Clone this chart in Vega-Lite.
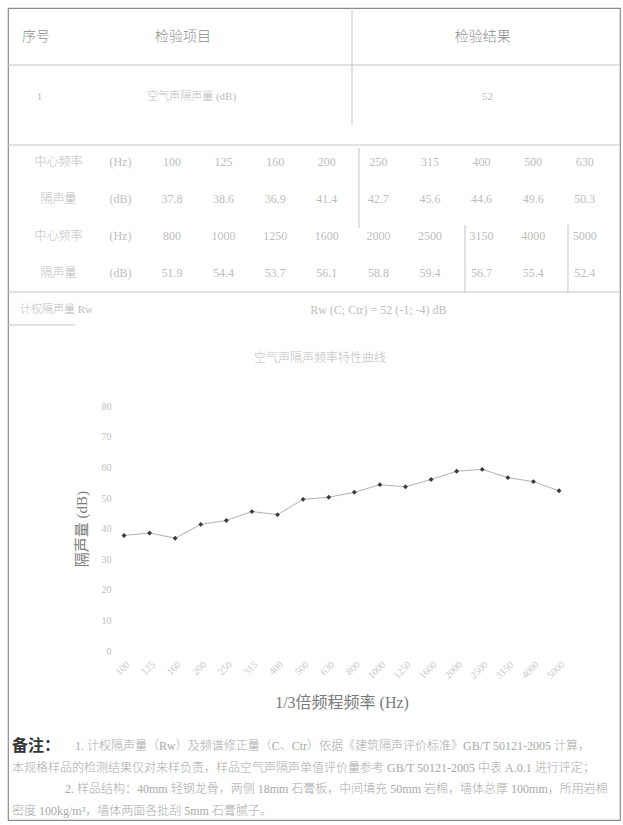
{
  "$schema": "https://vega.github.io/schema/vega-lite/v6.json",
  "width": 612,
  "height": 812,
  "autosize": {"type": "none"},
  "padding": {"left": 8, "top": 8, "right": 3, "bottom": 5},
  "background": "white",
  "config": {
    "view": {"stroke": "#8a8a8a", "strokeWidth": 1.2},
    "font": "Liberation Serif, Noto Sans CJK SC",
    "text": {"font": "Liberation Serif, Noto Sans CJK SC"}
  },
  "datasets": {
    "spectrum": [
      {"f": "100", "R": 37.8, "band": 1, "tc": 1},
      {"f": "125", "R": 38.6, "band": 1, "tc": 2},
      {"f": "160", "R": 36.9, "band": 1, "tc": 3},
      {"f": "200", "R": 41.4, "band": 1, "tc": 4},
      {"f": "250", "R": 42.7, "band": 1, "tc": 5},
      {"f": "315", "R": 45.6, "band": 1, "tc": 6},
      {"f": "400", "R": 44.6, "band": 1, "tc": 7},
      {"f": "500", "R": 49.6, "band": 1, "tc": 8},
      {"f": "630", "R": 50.3, "band": 1, "tc": 9},
      {"f": "800", "R": 51.9, "band": 2, "tc": 1},
      {"f": "1000", "R": 54.4, "band": 2, "tc": 2},
      {"f": "1250", "R": 53.7, "band": 2, "tc": 3},
      {"f": "1600", "R": 56.1, "band": 2, "tc": 4},
      {"f": "2000", "R": 58.8, "band": 2, "tc": 5},
      {"f": "2500", "R": 59.4, "band": 2, "tc": 6},
      {"f": "3150", "R": 56.7, "band": 2, "tc": 7},
      {"f": "4000", "R": 55.4, "band": 2, "tc": 8},
      {"f": "5000", "R": 52.4, "band": 2, "tc": 9}
    ],
    "grid": [
      {"x1": 0, "x2": 100, "y1": 7.02, "y2": 7.02},
      {"x1": 56.21, "x2": 56.21, "y1": 0, "y2": 14.41},
      {"x1": 0, "x2": 100, "y1": 16.87, "y2": 16.87},
      {"x1": 0, "x2": 100, "y1": 34.98, "y2": 34.98},
      {"x1": 0, "x2": 10.95, "y1": 39.04, "y2": 39.04},
      {"x1": 57.35, "x2": 57.35, "y1": 17.24, "y2": 27.09},
      {"x1": 74.67, "x2": 74.67, "y1": 26.72, "y2": 34.98},
      {"x1": 91.5, "x2": 91.5, "y1": 26.72, "y2": 34.98}
    ],
    "head": [
      {"t": "序号", "c": 0.55, "r": 1},
      {"t": "检验项目", "c": 3.43, "r": 1},
      {"t": "检验结果", "c": 9.31, "r": 1},
      {"t": "1", "c": 0.62, "r": 2},
      {"t": "空气声隔声量 (dB)", "c": 3.6, "r": 2},
      {"t": "52", "c": 9.4, "r": 2}
    ],
    "labels": [
      {"t": "中心频率", "c": -1.2, "r": 1},
      {"t": "(Hz)", "c": 0, "r": 1},
      {"t": "隔声量", "c": -1.2, "r": 2},
      {"t": "(dB)", "c": 0, "r": 2},
      {"t": "中心频率", "c": -1.2, "r": 3},
      {"t": "(Hz)", "c": 0, "r": 3},
      {"t": "隔声量", "c": -1.2, "r": 4},
      {"t": "(dB)", "c": 0, "r": 4},
      {"t": "Rw (C; Ctr) = 52 (-1; -4) dB", "c": 5, "r": 5},
      {"t": "空气声隔声频率特性曲线", "c": 3.868, "r": 6.297}
    ],
    "rwlabel": [
      {"t": "计权隔声量 Rw", "c": -1.946, "r": 5}
    ],
    "notes": [
      {"t": "1. 计权隔声量（Rw）及频谱修正量（C、Ctr）依据《建筑隔声评价标准》GB/T 50121-2005 计算，", "i": 5.25, "l": 1},
      {"t": "本规格样品的检测结果仅对来样负责，样品空气声隔声单值评价量参考 GB/T 50121-2005 中表 A.0.1 进行评定；", "i": 0, "l": 2},
      {"t": "2. 样品结构：40mm 轻钢龙骨，两侧 18mm 石膏板，中间填充 50mm 岩棉，墙体总厚 100mm，所用岩棉", "i": 4.42, "l": 3},
      {"t": "密度 100kg/m³，墙体两面各批刮 5mm 石膏腻子。", "i": 0, "l": 4}
    ],
    "notehead": [
      {"t": "备注：", "i": 0, "l": 1}
    ]
  },
  "layer": [
    {
      "data": {"name": "grid"},
      "mark": {"type": "rule", "stroke": "#c4c4c4", "strokeWidth": 1},
      "encoding": {
        "x": {"field": "x1", "type": "quantitative", "scale": {"domain": [0, 100], "nice": false, "zero": false}, "axis": null},
        "x2": {"field": "x2"},
        "y": {"field": "y1", "type": "quantitative", "scale": {"domain": [0, 100], "reverse": true, "nice": false, "zero": false}, "axis": null},
        "y2": {"field": "y2"}
      }
    },
    {
      "data": {"name": "head"},
      "mark": {"type": "text", "fontWeight": 300},
      "encoding": {
        "x": {"field": "c", "type": "quantitative", "scale": {"domain": [0, 12], "nice": false, "zero": false}, "axis": null},
        "y": {"field": "r", "type": "quantitative", "scale": {"domain": [0.5167, 14.05], "reverse": true, "nice": false, "zero": false}, "axis": null},
        "text": {"field": "t"},
        "color": {"condition": {"test": "datum.r == 1", "value": "#8c8c8c"}, "value": "#bdbdbd"},
        "size": {"condition": {"test": "datum.r == 1", "value": 14}, "value": 11}
      }
    },
    {
      "data": {"name": "labels"},
      "mark": {"type": "text", "fontSize": 12, "color": "#bdbdbd", "fontWeight": 300},
      "encoding": {
        "x": {"field": "c", "type": "quantitative", "scale": {"domain": [-2.178, 9.682], "nice": false, "zero": false}, "axis": null},
        "y": {"field": "r", "type": "quantitative", "scale": {"domain": [-3.162, 18.784], "reverse": true, "nice": false, "zero": false}, "axis": null},
        "text": {"field": "t"}
      }
    },
    {
      "data": {"name": "rwlabel"},
      "mark": {"type": "text", "fontSize": 11, "color": "#bdbdbd", "align": "left", "fontWeight": 300},
      "encoding": {
        "x": {"field": "c", "type": "quantitative", "scale": {"domain": [-2.178, 9.682], "nice": false, "zero": false}, "axis": null},
        "y": {"field": "r", "type": "quantitative", "scale": {"domain": [-3.162, 18.784], "reverse": true, "nice": false, "zero": false}, "axis": null},
        "text": {"field": "t"}
      }
    },
    {
      "data": {"name": "spectrum"},
      "mark": {"type": "text", "fontSize": 12, "color": "#bdbdbd"},
      "encoding": {
        "x": {"field": "tc", "type": "quantitative", "scale": {"domain": [-2.178, 9.682], "nice": false, "zero": false}, "axis": null},
        "y": {"field": "band", "type": "quantitative", "scale": {"domain": [-1.081, 9.892], "reverse": true, "nice": false, "zero": false}, "axis": null},
        "text": {"field": "f"}
      }
    },
    {
      "data": {"name": "spectrum"},
      "mark": {"type": "text", "fontSize": 12, "color": "#bdbdbd"},
      "encoding": {
        "x": {"field": "tc", "type": "quantitative", "scale": {"domain": [-2.178, 9.682], "nice": false, "zero": false}, "axis": null},
        "y": {"field": "band", "type": "quantitative", "scale": {"domain": [-1.581, 9.392], "reverse": true, "nice": false, "zero": false}, "axis": null},
        "text": {"field": "R", "format": ".1f"}
      }
    },
    {
      "data": {"name": "spectrum"},
      "encoding": {
        "x": {
          "field": "f", "type": "nominal", "sort": null,
          "scale": {"type": "point", "range": [116, 551], "padding": 0},
          "axis": {
            "orient": "bottom", "offset": -165, "labelAngle": -45, "labelFontSize": 10,
            "labelColor": "#c8c8c8", "ticks": false, "domain": false, "grid": false,
            "labelPadding": 4, "labelOverlap": false,
            "title": "1/3倍频程频率 (Hz)", "titleFontSize": 16, "titleColor": "#7a7a7a",
            "titleFontWeight": "normal", "titlePadding": 14
          }
        },
        "y": {
          "field": "R", "type": "quantitative",
          "scale": {"domain": [0, 80], "range": [643, 398.4], "nice": false, "zero": false},
          "axis": {
            "orient": "left", "offset": -106, "values": [0, 10, 20, 30, 40, 50, 60, 70, 80],
            "ticks": false, "domain": false, "grid": false, "labelFontSize": 10,
            "labelColor": "#bdbdbd", "labelPadding": 3,
            "title": "隔声量 (dB)", "titleFontSize": 15, "titleColor": "#7a7a7a",
            "titleFontWeight": "normal", "titlePadding": 12
          }
        }
      },
      "layer": [
        {"mark": {"type": "line", "color": "#b0b0b0", "strokeWidth": 1}},
        {"mark": {"type": "point", "filled": true, "shape": "diamond", "size": 24, "color": "#3a3a3a", "opacity": 1}}
      ]
    },
    {
      "data": {"name": "notes"},
      "mark": {"type": "text", "fontSize": 12, "color": "#a8a8a8", "align": "left", "fontWeight": 300},
      "encoding": {
        "x": {"field": "i", "type": "quantitative", "scale": {"domain": [-0.333, 50.667], "nice": false, "zero": false}, "axis": null},
        "y": {"field": "l", "type": "quantitative", "scale": {"domain": [-33.009, 4.41], "reverse": true, "nice": false, "zero": false}, "axis": null},
        "text": {"field": "t"}
      }
    },
    {
      "data": {"name": "notehead"},
      "mark": {"type": "text", "fontSize": 16, "fontWeight": "bold", "color": "#333333", "align": "left"},
      "encoding": {
        "x": {"field": "i", "type": "quantitative", "scale": {"domain": [-0.333, 50.667], "nice": false, "zero": false}, "axis": null},
        "y": {"field": "l", "type": "quantitative", "scale": {"domain": [-33.009, 4.41], "reverse": true, "nice": false, "zero": false}, "axis": null},
        "text": {"field": "t"}
      }
    }
  ],
  "resolve": {
    "scale": {"x": "independent", "y": "independent", "color": "independent", "size": "independent"},
    "axis": {"x": "independent", "y": "independent"}
  }
}
